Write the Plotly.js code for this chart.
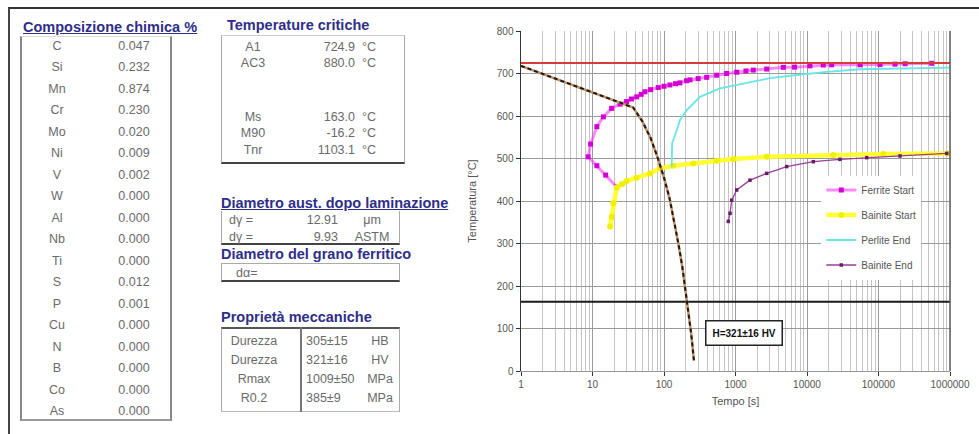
<!DOCTYPE html>
<html><head><meta charset="utf-8">
<script src="https://cdn.plot.ly/plotly-3.0.1.min.js"></script>
<style>
body{margin:0;width:979px;height:434px;overflow:hidden;background:#fff;font-family:"Liberation Sans",Arial,sans-serif;}
#chart{position:absolute;left:0;top:0;width:979px;height:434px;}
#frame{position:absolute;left:8px;top:7px;width:975px;height:440px;border-top:2px solid #333;border-left:2px solid #444;pointer-events:none;}
#tables{position:absolute;left:0;top:0;width:979px;height:434px;pointer-events:none;}
.t{position:absolute;white-space:nowrap;line-height:16px;height:16px;margin-top:-8px;}
.title{color:#2e2e8a;font-weight:bold;font-size:14.5px;}
.u{text-decoration:underline;}
.cell{color:#6a6a6a;font-size:12.5px;}
.box{position:absolute;box-sizing:border-box;}
</style></head><body>
<div id="chart"></div>
<div id="tables"></div>
<div id="frame"></div>
<script>
// ---------- table data ----------
const elements = ["C","Si","Mn","Cr","Mo","Ni","V","W","Al","Nb","Ti","S","P","Cu","N","B","Co","As"];
const composition = ["0.047","0.232","0.874","0.230","0.020","0.009","0.002","0.000","0.000","0.000","0.000","0.012","0.001","0.000","0.000","0.000","0.000","0.000"];
const critLabels = ["A1","AC3","Ms","M90","Tnr"];
const critValues = ["724.9","880.0","163.0","-16.2","1103.1"];
const grainLabels = ["d\u03b3 =","d\u03b3 ="];
const grainValues = ["12.91","9.93"];
const grainUnits = ["\u03bcm","ASTM"];
const propLabels = ["Durezza","Durezza","Rmax","R0.2"];
const propValues = ["305\u00b115","321\u00b116","1009\u00b150","385\u00b19"];
const propUnits = ["HB","HV","MPa","MPa"];

// ---------- chart data ----------
const A1 = 724.9;
const Ms = 163.0;
const xRangeTimes = [1, 1000000];
const ferriteStartTime = [21.8,15.3,11.5,8.7,9.4,11.5,14.2,18.5,24.3,30,35,41.5,48,54,65,83,100,121,145,167,207,231,300,395,546,750,1040,1400,1775,2733,4660,6700,11000,16900,22100,55100,105000,170000,236000,554000];
const ferriteStartTemp = [433,461,483,504,534,575,598,618,628,634,640,645,651,657,662,667,670,673,676,678,683,685,688,691,696,700,703,706,708,710.5,714.5,715,718,720,720.5,720.5,721,722,723,724];
const bainiteStartTime = [17.6,18.5,19.5,21.8,26,30,41.5,64,88,135,257,546,931,2730,23300,117000,950000];
const bainiteStartTemp = [340,363,395,432,440,447,455,465,477,483,488,495,499,504,508,510.5,512];
const perliteEndTime = [128,128,130,151,167,208,319,606,1285,3040,7180,18900,55100,222000,1000000];
const perliteEndTemp = [481,510,536,567,590,614,645,665,677,689,696.5,704,710,712,714];
const bainiteEndTime = [793,838,885,1040,1596,2730,5200,12250,28900,68400,200000,900000];
const bainiteEndTemp = [352,371,402,426,449,465,481,492.5,498,502,506,512];
const coolingTime = [1,37,50,65,80,100,120,140,160,180,200,220,240,262];
const coolingTemp = [718,620,587,548,506,455,405,350,297,246,192,140,88,25];
const xTickVals = [1,10,100,1000,10000,100000,1000000];
const xTickText = ["1","10","100","1000","10000","100000","1000000"];
const seriesNames = ["Ferrite Start","Bainite Start","Perlite End","Bainite End"];
const hardnessLabel = "H=" + propValues[1] + " " + propUnits[1];

// ---------- tables (HTML) ----------
const T = document.getElementById('tables');
function txt(x, y, s, cls, align){
  const d = document.createElement('div');
  d.className = 't ' + cls;
  d.textContent = s;
  d.style.top = y + 'px';
  if (align === 'center'){ d.style.left = x + 'px'; d.style.transform = 'translateX(-50%)'; }
  else if (align === 'right'){ d.style.right = (979 - x) + 'px'; }
  else { d.style.left = x + 'px'; }
  T.appendChild(d);
}
function box(x0, y0, x1, y1, css){
  const d = document.createElement('div');
  d.className = 'box';
  d.style.left = x0 + 'px'; d.style.top = y0 + 'px';
  d.style.width = (x1 - x0) + 'px'; d.style.height = (y1 - y0) + 'px';
  Object.assign(d.style, css);
  T.appendChild(d);
}
// Composition
txt(23, 27, "Composizione chimica %", "title u", "left");
box(20, 36, 172, 421, {borderLeft:'2px solid #888', borderRight:'2px solid #888', borderBottom:'2px solid #999', borderTop:'1px solid #ddd'});
elements.forEach((e,i)=>{
  txt(57, 45.5 + 21.5*i, e, "cell", "center");
  txt(134, 45.5 + 21.5*i, composition[i], "cell", "center");
});
// Critical temperatures
txt(227, 25, "Temperature critiche", "title", "left");
box(221, 35, 405, 164, {borderLeft:'1px solid #aaa', borderRight:'1px solid #aaa', borderTop:'1px solid #ccc', borderBottom:'2px solid #444'});
const critY = [46.7, 63.3, 116.7, 133.3, 150];
critLabels.forEach((l,i)=>{
  txt(253, critY[i], l, "cell", "center");
  txt(355, critY[i], critValues[i], "cell", "right");
  txt(362, critY[i], "\u00b0C", "cell", "left");
});
// Austenite grain
txt(221, 203, "Diametro aust. dopo laminazione", "title u", "left");
box(221, 211, 400, 245, {borderLeft:'1px solid #aaa', borderRight:'1px solid #aaa', borderBottom:'2px solid #444'});
const grainY = [220, 237];
grainLabels.forEach((l,i)=>{
  txt(241, grainY[i], l, "cell", "center");
  txt(338, grainY[i], grainValues[i], "cell", "right");
  txt(372, grainY[i], grainUnits[i], "cell", "center");
});
// Ferrite grain
txt(221, 254, "Diametro del grano ferritico", "title", "left");
box(221, 263, 400, 282, {borderLeft:'1px solid #aaa', borderRight:'1px solid #aaa', borderTop:'1px solid #aaa', borderBottom:'2px solid #444'});
txt(236, 272.5, "d\u03b1=", "cell", "left");
// Mechanical properties
txt(221, 317, "Propriet\u00e0 meccaniche", "title", "left");
box(221, 327, 400, 412, {borderLeft:'1px solid #aaa', borderRight:'1px solid #aaa', borderTop:'2px solid #555', borderBottom:'1px solid #bbb'});
box(300, 327, 302, 412, {borderLeft:'2px solid #777'});
const propY = [341, 360, 379, 398];
propLabels.forEach((l,i)=>{
  txt(254, propY[i], l, "cell", "center");
  txt(306, propY[i], propValues[i], "cell", "left");
  txt(380, propY[i], propUnits[i], "cell", "center");
});

// ---------- chart ----------
const font = {family:'"Liberation Sans", Arial, sans-serif', size:10, color:'#555'};
const traces = [
  {x: ferriteStartTime, y: ferriteStartTemp, name: seriesNames[0], mode:'lines+markers', legendgroup:'a',
   line:{color:'rgba(255,40,255,0.55)', width:3}, marker:{symbol:'square', size:5, color:'#d400d4'}},
  {x: bainiteStartTime, y: bainiteStartTemp, name: seriesNames[1], mode:'lines+markers', legendgroup:'b',
   line:{color:'#ffff33', width:4.5}, marker:{symbol:'circle', size:6, color:'#f0f000'}},
  {x: perliteEndTime, y: perliteEndTemp, name: seriesNames[2], mode:'lines', legendgroup:'c',
   line:{color:'#66e6e6', width:1.8}},
  {x: bainiteEndTime, y: bainiteEndTemp, name: seriesNames[3], mode:'lines+markers', legendgroup:'d',
   line:{color:'#9a3c9a', width:1.3}, marker:{symbol:'square', size:3.5, color:'#6a1a6a'}},
  {x: xRangeTimes, y: [A1, A1], mode:'lines', showlegend:false, line:{color:'#d23c3c', width:2}},
  {x: xRangeTimes, y: [Ms, Ms], mode:'lines', showlegend:false, line:{color:'#1a1a1a', width:2}},
  {x: coolingTime, y: coolingTemp, mode:'lines', showlegend:false, line:{color:'#c89060', width:2.5}},
  {x: coolingTime, y: coolingTemp, mode:'lines', showlegend:false, line:{color:'#1a1a1a', width:2, dash:'4px,3px'}}
];
const layout = {
  width:979, height:434,
  margin:{l:521, r:29, t:31, b:63},
  paper_bgcolor:'rgba(0,0,0,0)', plot_bgcolor:'#fff',
  font: font,
  xaxis:{type:'log', range:[0,6], tickvals:xTickVals, ticktext:xTickText,
    ticks:'outside', ticklen:4, tickcolor:'#333', tickfont:{...font, size:10},
    showgrid:true, gridcolor:'#9a9a9a', gridwidth:1,
    minor:{dtick:'D1', showgrid:true, gridcolor:'#c4c4c4', gridwidth:1, ticks:''},
    showline:true, linecolor:'#999', linewidth:1, zeroline:false,
    title:{text:'Tempo [s]', font:{...font, size:11}, standoff:8}},
  yaxis:{range:[0,800], tick0:0, dtick:100, ticks:'outside', ticklen:4, tickcolor:'#333',
    tickfont:{...font, size:10}, showgrid:true, gridcolor:'#9a9a9a', gridwidth:1,
    showline:true, linecolor:'#333', linewidth:1.5, zeroline:false,
    title:{text:'Temperatura [\u00b0C]', font:{...font, size:11}, standoff:18}},
  legend:{x:0.70, y:0.575, xanchor:'left', yanchor:'top', bgcolor:'#fff', borderwidth:0,
    font:{...font, size:10}, itemwidth:30, tracegroupgap:6, traceorder:'grouped'},
  shapes:[{type:'line', xref:'paper', yref:'paper', x0:1, x1:1, y0:0, y1:1, line:{color:'#555', width:1.5}}],
  annotations:[{xref:'paper', yref:'paper', x:0.519, y:0.113, xanchor:'center', yanchor:'middle',
    text:'<b>'+hardnessLabel+'</b>', showarrow:false,
    font:{family:'"Liberation Sans", Arial, sans-serif', size:10, color:'#111'}, bgcolor:'#fff',
    bordercolor:'#222', borderwidth:1.5, borderpad:6}]
};
Plotly.newPlot('chart', traces, layout, {staticPlot:true, displayModeBar:false});
</script>
</body></html>
